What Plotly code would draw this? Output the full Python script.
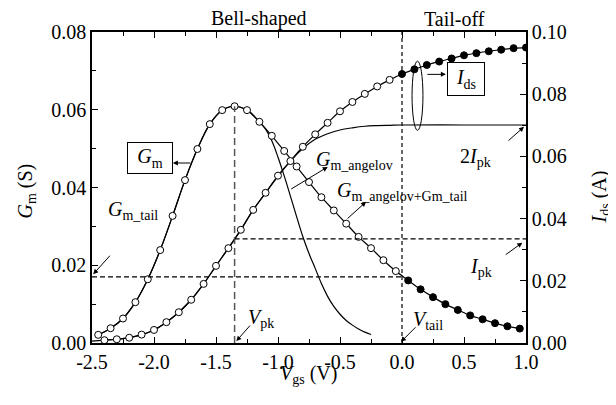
import plotly.graph_objects as go

# ---------------- data ----------------
gm_v = [-2.45, -2.35, -2.25, -2.15, -2.05, -1.95, -1.85, -1.75, -1.65, -1.55,
        -1.45, -1.35, -1.25, -1.15, -1.05, -0.95, -0.85, -0.75, -0.65, -0.55,
        -0.45, -0.35, -0.25, -0.15, -0.05, 0.05, 0.15, 0.25, 0.35, 0.45,
        0.55, 0.65, 0.75, 0.85, 0.95]
gm_s = [0.0021, 0.0038, 0.0063, 0.0105, 0.0164, 0.0239, 0.0327, 0.0419, 0.0499, 0.0563,
        0.0599, 0.0609, 0.0599, 0.0569, 0.0533, 0.0494, 0.0454, 0.0414, 0.0375, 0.0341,
        0.0307, 0.0273, 0.0244, 0.0213, 0.0185, 0.0161, 0.0138, 0.0118, 0.0100, 0.0085,
        0.0071, 0.0061, 0.0051, 0.0043, 0.0037]

ids_v = [-2.4, -2.3, -2.2, -2.1, -2.0, -1.9, -1.8, -1.7, -1.6, -1.5,
         -1.4, -1.3, -1.2, -1.1, -1.0, -0.9, -0.8, -0.7, -0.6, -0.5,
         -0.4, -0.3, -0.2, -0.1, 0.0, 0.1, 0.2, 0.3, 0.4, 0.5,
         0.6, 0.7, 0.8, 0.9, 1.0]
ids_a = [0.0009, 0.0012, 0.0017, 0.0027, 0.0042, 0.0067, 0.0099, 0.0139, 0.0190, 0.0248,
         0.0305, 0.0364, 0.0428, 0.0483, 0.0538, 0.0585, 0.0631, 0.0671, 0.0708, 0.0745,
         0.0775, 0.0801, 0.0825, 0.0846, 0.0865, 0.0880, 0.0894, 0.0905, 0.0915, 0.0925,
         0.0932, 0.0938, 0.0943, 0.0948, 0.0950]

angelov_v = [-2.45, -2.35, -2.25, -2.15, -2.05, -1.95, -1.85, -1.75, -1.65, -1.55,
             -1.45, -1.35, -1.25, -1.15, -1.1, -1.05, -1.0, -0.95, -0.9, -0.85,
             -0.8, -0.75, -0.7, -0.65, -0.6, -0.55, -0.5, -0.45, -0.4, -0.35,
             -0.3, -0.25]
angelov_s = [0.0021, 0.0038, 0.0063, 0.0105, 0.0164, 0.0239, 0.0327, 0.0419, 0.0499, 0.0563,
             0.0599, 0.0609, 0.0599, 0.0569, 0.0550, 0.0520, 0.0478, 0.0430, 0.0378, 0.0325,
             0.0274, 0.0230, 0.0192, 0.0153, 0.0120, 0.0094, 0.0074, 0.0058, 0.0046, 0.0036,
             0.0028, 0.0022]

model_v = [-2.5, -2.4, -2.3, -2.2, -2.1, -2.0, -1.9, -1.8, -1.7, -1.6, -1.5,
           -1.4, -1.3, -1.2, -1.1, -1.0, -0.9, -0.8, -0.7, -0.6, -0.5,
           -0.4, -0.3, -0.2, -0.1, 0.0, 0.5, 1.0]
model_a = [0.0006, 0.0009, 0.0012, 0.0017, 0.0027, 0.0042, 0.0067, 0.0099, 0.0139, 0.0190, 0.0248,
           0.0305, 0.0364, 0.0428, 0.0483, 0.0536, 0.0585, 0.0625, 0.0655, 0.0673, 0.0685,
           0.0692, 0.0697, 0.0699, 0.0700, 0.0701, 0.0701, 0.0701]

V_PK = -1.35
V_TAIL = 0.0
GM_PK = 0.0609
GM_TAIL = 0.0170
I_PK = 0.0335

x_ticks = [-2.5, -2.0, -1.5, -1.0, -0.5, 0.0, 0.5, 1.0]
x_ticktext = ["-2.5", "-2.0", "-1.5", "-1.0", "-0.5", "0.0", "0.5", "1.0"]
gm_ticks = [0.0, 0.02, 0.04, 0.06, 0.08]
gm_ticktext = ["0.00", "0.02", "0.04", "0.06", "0.08"]
ids_ticks = [0.0, 0.02, 0.04, 0.06, 0.08, 0.10]
ids_ticktext = ["0.00", "0.02", "0.04", "0.06", "0.08", "0.10"]

FONT = "Liberation Serif"
FS = 20

fig = go.Figure()

fig.add_trace(go.Scatter(x=angelov_v, y=angelov_s, mode="lines",
                         line=dict(color="black", width=1.2, shape="spline"),
                         showlegend=False, hoverinfo="skip"))
fig.add_trace(go.Scatter(x=model_v, y=model_a, mode="lines", yaxis="y2",
                         line=dict(color="black", width=1.2, shape="spline"),
                         showlegend=False, hoverinfo="skip"))
fig.add_trace(go.Scatter(x=gm_v, y=gm_s, mode="lines",
                         line=dict(color="black", width=1.2, shape="spline"),
                         showlegend=False, hoverinfo="skip"))
fig.add_trace(go.Scatter(x=ids_v, y=ids_a, mode="lines", yaxis="y2",
                         line=dict(color="black", width=1.2, shape="spline"),
                         showlegend=False, hoverinfo="skip"))

def split(vs, ys, neg):
    px = [v for v in vs if (v < 0) == neg]
    py = [y for v, y in zip(vs, ys) if (v < 0) == neg]
    return px, py

for vs, ys, ax in [(gm_v, gm_s, "y"), (ids_v, ids_a, "y2")]:
    ox, oy = split(vs, ys, True)
    fx, fy = split(vs, ys, False)
    fig.add_trace(go.Scatter(x=ox, y=oy, mode="markers", yaxis=ax,
                             marker=dict(symbol="circle", size=7, color="white",
                                         line=dict(color="black", width=1)),
                             showlegend=False, hoverinfo="skip"))
    fig.add_trace(go.Scatter(x=fx, y=fy, mode="markers", yaxis=ax,
                             marker=dict(symbol="circle", size=7, color="black",
                                         line=dict(color="black", width=1)),
                             showlegend=False, hoverinfo="skip"))

shapes = [
    dict(type="line", xref="x", yref="y", x0=V_PK, x1=V_PK, y0=0, y1=GM_PK,
         line=dict(color="#555555", width=1.5, dash="7px,4px")),
    dict(type="line", xref="x", yref="paper", x0=V_TAIL, x1=V_TAIL, y0=0, y1=1,
         line=dict(color="black", width=1.2, dash="4px,3px")),
    dict(type="line", xref="paper", yref="y", x0=0, x1=(V_TAIL + 2.5) / 3.5, y0=GM_TAIL, y1=GM_TAIL,
         line=dict(color="black", width=1.2, dash="5px,3px")),
    dict(type="line", xref="x", yref="y2", x0=V_PK, x1=1.0, y0=I_PK, y1=I_PK,
         line=dict(color="black", width=1.2, dash="5px,3px")),
    dict(type="circle", xref="x", yref="y", x0=0.081, x1=0.169, y0=0.0547, y1=0.0725,
         line=dict(color="black", width=1)),
]

ann = []
def arrow(x, y, ax, ay):
    ann.append(dict(x=x, y=y, xref="x", yref="y", ax=ax, ay=ay, text="",
                    showarrow=True, arrowhead=2, arrowsize=1, arrowwidth=1,
                    arrowcolor="black"))

def label(x, y, text, xanchor="left", xref="x", yref="y", size=FS, box=None, angle=0):
    d = dict(x=x, y=y, xref=xref, yref=yref, text=text, showarrow=False,
             xanchor=xanchor, yanchor="middle", textangle=angle,
             font=dict(family=FONT, size=size, color="black"))
    if box:
        d.update(bordercolor="black", borderwidth=1, borderpad=2, bgcolor="white",
                 width=box[0], height=box[1])
    ann.append(d)

arrow(-1.848, 0.0463, 19, 0)      # Gm box
arrow(-2.49, 0.0177, 18, -20)     # Gm_tail
arrow(-1.336, 0.0005, 15, -17)    # Vpk
arrow(-0.008, 0.0003, 16, -16)    # Vtail
arrow(0.97, 0.0258, -18, 13)      # Ipk
arrow(0.984, 0.0556, -17, 15)     # 2Ipk
arrow(0.354, 0.0691, -20, 0)      # Ids box
arrow(-0.599, 0.0453, -38, 23)    # Gm_angelov
arrow(-0.29, 0.0363, -20, 18)     # Gm_angelov+Gm_tail

label(-1.157, 1.043, "Bell-shaped", xanchor="center", yref="paper")
label(0.42, 1.043, "Tail-off", xanchor="center", yref="paper")
label(-2.033, 0.0477, "<i>G</i><sub>m</sub>", xanchor="center", box=(40, 26))
label(0.519, 0.0678, "<i>I</i><sub>ds</sub>", xanchor="center", box=(32, 28))
label(-2.387, 0.0342, "<i>G</i><sub>m_tail</sub>")
label(-1.261, 0.0064, "<i>V</i><sub>pk</sub>")
label(0.074, 0.0059, "<i>V</i><sub>tail</sub>")
label(0.533, 0.0193, "<i>I</i><sub>pk</sub>")
label(0.452, 0.0478, "2<i>I</i><sub>pk</sub>")
label(-0.706, 0.0470, "<i>G</i><sub>m_angelov</sub>")
label(-0.537, 0.0391, "<i>G</i><sub>m_angelov+Gm_tail</sub>")

# axis titles as annotations (paper coords relative to plot area)
label(0.498, -0.102, "<i>V</i><sub>gs</sub> (V)", xanchor="center", xref="paper", yref="paper")
label(-0.150, 0.49, "<i>G</i><sub>m</sub> (S)", xanchor="center", xref="paper", yref="paper", angle=-90)
label(1.172, 0.47, "<i>I</i><sub>ds</sub> (A)", xanchor="center", xref="paper", yref="paper", angle=-90)

axis_common = dict(showline=True, linecolor="black", linewidth=1.5, showgrid=False,
                   zeroline=False, ticks="inside", ticklen=6, tickwidth=1.2,
                   automargin=False,
                   tickcolor="black", tickfont=dict(family=FONT, size=FS, color="black"))

# page body has an 8px margin, so the figure is 8px smaller than the window
fig.update_layout(
    template="none",
    width=608, height=397,
    margin=dict(l=84, r=90, t=24, b=62, pad=0),
    plot_bgcolor="white", paper_bgcolor="white",
    font=dict(family=FONT, size=FS, color="black"),
    showlegend=False,
    shapes=shapes, annotations=ann,
    xaxis=dict(range=[-2.5, 1.0], tickmode="array", tickvals=x_ticks, ticktext=x_ticktext,
               mirror="ticks",
               minor=dict(tickmode="linear", tick0=-2.5, dtick=0.25, ticklen=4,
                          ticks="inside", tickcolor="black", tickwidth=1.2),
               **axis_common),
    yaxis=dict(range=[0, 0.08], tickmode="array", tickvals=gm_ticks, ticktext=gm_ticktext,
               minor=dict(tickmode="linear", tick0=0, dtick=0.01, ticklen=4,
                          ticks="inside", tickcolor="black", tickwidth=1.2),
               **axis_common),
    yaxis2=dict(range=[0, 0.10], overlaying="y", side="right", anchor="x",
                tickmode="array", tickvals=ids_ticks, ticktext=ids_ticktext,
                minor=dict(tickmode="linear", tick0=0, dtick=0.01, ticklen=4,
                           ticks="inside", tickcolor="black", tickwidth=1.2),
                **axis_common),
)

fig.write_html("out.html")
